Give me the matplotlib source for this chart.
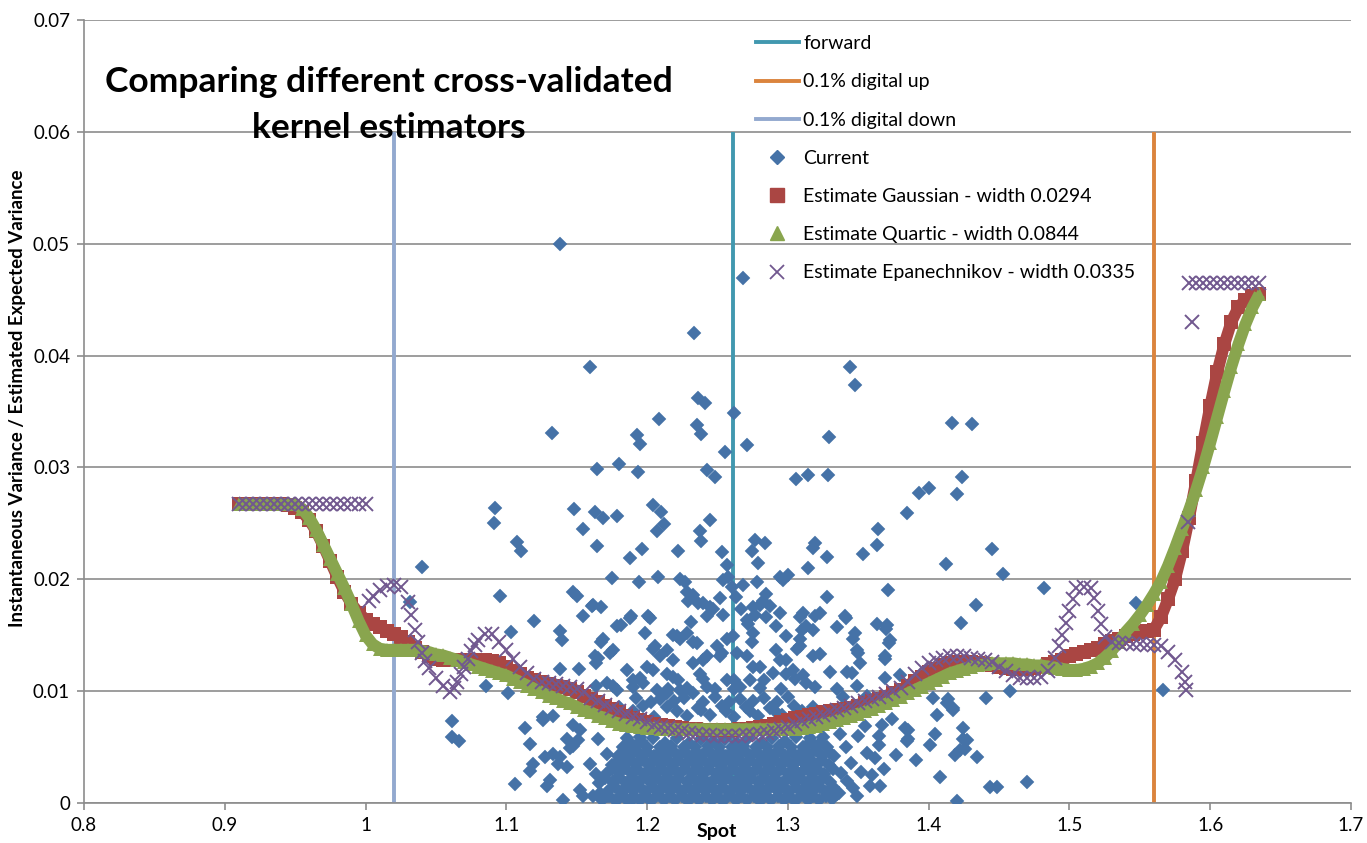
import matplotlib
matplotlib.use("Agg")
import matplotlib.pyplot as plt
from matplotlib.lines import Line2D
import numpy as np

plt.rcParams["font.family"] = ["Lato", "DejaVu Sans"]

# ---- kernel estimates, evaluated on a regular spot grid 0.910 .. 1.635 (step 0.005) ----
SPOT_GRID = np.round(np.arange(0.910, 1.6351, 0.005), 3)

GAUSSIAN = [
    0.0267, 0.0267, 0.0267, 0.0267, 0.0267, 0.0267, 0.0267, 0.0266, 0.0264, 0.0260,  # 0.910
    0.0253, 0.0243, 0.0230, 0.0216, 0.0202, 0.0189, 0.0178, 0.0170, 0.0164, 0.0160,  # 0.960
    0.0157, 0.0154, 0.0151, 0.0148, 0.0144, 0.0139, 0.0135, 0.0131, 0.0129, 0.0128,  # 1.010
    0.0128, 0.0128, 0.0128, 0.0128, 0.0128, 0.0128, 0.0127, 0.0125, 0.0122, 0.0118,  # 1.060
    0.0115, 0.0112, 0.0110, 0.0108, 0.0106, 0.0105, 0.0104, 0.0102, 0.0099, 0.0096,  # 1.110
    0.0093, 0.0090, 0.0087, 0.0084, 0.0081, 0.0078, 0.0076, 0.0074, 0.0072, 0.0071,  # 1.160
    0.0070, 0.0069, 0.0068, 0.0067, 0.0066, 0.0066, 0.0065, 0.0065, 0.0065, 0.0065,  # 1.210
    0.0065, 0.0066, 0.0066, 0.0067, 0.0068, 0.0069, 0.0071, 0.0072, 0.0074, 0.0076,  # 1.260
    0.0077, 0.0079, 0.0080, 0.0081, 0.0082, 0.0083, 0.0084, 0.0085, 0.0087, 0.0089,  # 1.310
    0.0091, 0.0093, 0.0095, 0.0098, 0.0101, 0.0105, 0.0109, 0.0113, 0.0117, 0.0120,  # 1.360
    0.0123, 0.0125, 0.0126, 0.0126, 0.0126, 0.0125, 0.0124, 0.0123, 0.0122, 0.0121,  # 1.410
    0.0120, 0.0120, 0.0120, 0.0121, 0.0122, 0.0124, 0.0126, 0.0128, 0.0131, 0.0133,  # 1.460
    0.0135, 0.0137, 0.0139, 0.0142, 0.0145, 0.0147, 0.0149, 0.0151, 0.0153, 0.0154,  # 1.510
    0.0155, 0.0166, 0.0182, 0.0200, 0.0225, 0.0255, 0.0288, 0.0322, 0.0355, 0.0385,  # 1.560
    0.0410, 0.0430, 0.0443, 0.0450, 0.0453, 0.0455,                                  # 1.610
]

QUARTIC = [
    0.0267, 0.0267, 0.0267, 0.0267, 0.0267, 0.0267, 0.0267, 0.0267, 0.0267, 0.0263,  # 0.910
    0.0255, 0.0244, 0.0231, 0.0218, 0.0205, 0.0192, 0.0178, 0.0163, 0.0150, 0.0142,  # 0.960
    0.0138, 0.0137, 0.0137, 0.0137, 0.0137, 0.0137, 0.0136, 0.0135, 0.0133, 0.0132,  # 1.010
    0.0130, 0.0128, 0.0126, 0.0124, 0.0122, 0.0120, 0.0118, 0.0116, 0.0114, 0.0111,  # 1.060
    0.0108, 0.0105, 0.0102, 0.0099, 0.0096, 0.0094, 0.0091, 0.0089, 0.0086, 0.0083,  # 1.110
    0.0081, 0.0078, 0.0076, 0.0073, 0.0071, 0.0070, 0.0069, 0.0068, 0.0067, 0.0067,  # 1.160
    0.0066, 0.0066, 0.0066, 0.0066, 0.0066, 0.0066, 0.0066, 0.0066, 0.0066, 0.0066,  # 1.210
    0.0066, 0.0066, 0.0066, 0.0066, 0.0066, 0.0066, 0.0066, 0.0066, 0.0066, 0.0066,  # 1.260
    0.0067, 0.0068, 0.0069, 0.0071, 0.0072, 0.0074, 0.0076, 0.0078, 0.0080, 0.0082,  # 1.310
    0.0084, 0.0087, 0.0089, 0.0092, 0.0095, 0.0098, 0.0101, 0.0104, 0.0107, 0.0110,  # 1.360
    0.0113, 0.0116, 0.0118, 0.0120, 0.0122, 0.0123, 0.0124, 0.0125, 0.0125, 0.0125,  # 1.410
    0.0125, 0.0124, 0.0124, 0.0123, 0.0123, 0.0122, 0.0121, 0.0120, 0.0119, 0.0119,  # 1.460
    0.0120, 0.0122, 0.0125, 0.0130, 0.0136, 0.0144, 0.0153, 0.0160, 0.0168, 0.0177,  # 1.510
    0.0187, 0.0198, 0.0212, 0.0228, 0.0245, 0.0262, 0.0280, 0.0300, 0.0322, 0.0345,  # 1.560
    0.0368, 0.0390, 0.0410, 0.0428, 0.0443, 0.0455,                                  # 1.610
]

EPANECHNIKOV = [
    0.0267, 0.0267, 0.0267, 0.0267, 0.0267, 0.0267, 0.0267, 0.0267, 0.0267, 0.0267,  # 0.910
    0.0267, 0.0267, 0.0267, 0.0267, 0.0267, 0.0267, 0.0267, 0.0267, 0.0267, 0.0185,  # 0.960
    0.0190, 0.0194, 0.0195, 0.0193, 0.0180, 0.0155, 0.0134, 0.0121, 0.0112, 0.0105,  # 1.010
    0.0099, 0.0108, 0.0122, 0.0136, 0.0146, 0.0151, 0.0151, 0.0144, 0.0137, 0.0129,  # 1.060
    0.0122, 0.0116, 0.0111, 0.0108, 0.0107, 0.0106, 0.0105, 0.0104, 0.0102, 0.0099,  # 1.110
    0.0094, 0.0091, 0.0088, 0.0085, 0.0082, 0.0080, 0.0077, 0.0075, 0.0072, 0.0070,  # 1.160
    0.0068, 0.0067, 0.0065, 0.0064, 0.0063, 0.0062, 0.0061, 0.0061, 0.0060, 0.0060,  # 1.210
    0.0060, 0.0060, 0.0061, 0.0061, 0.0062, 0.0063, 0.0064, 0.0066, 0.0068, 0.0071,  # 1.260
    0.0073, 0.0075, 0.0077, 0.0079, 0.0081, 0.0083, 0.0085, 0.0087, 0.0089, 0.0091,  # 1.310
    0.0093, 0.0095, 0.0097, 0.0100, 0.0103, 0.0108, 0.0115, 0.0121, 0.0125, 0.0128,  # 1.360
    0.0130, 0.0131, 0.0131, 0.0131, 0.0130, 0.0129, 0.0128, 0.0126, 0.0122, 0.0118,  # 1.410
    0.0114, 0.0112, 0.0112, 0.0112, 0.0113, 0.0118, 0.0130, 0.0150, 0.0172, 0.0192,  # 1.460
    0.0193, 0.0192, 0.0172, 0.0148, 0.0144, 0.0143, 0.0143, 0.0142, 0.0142, 0.0141,  # 1.510
    0.0141, 0.0140, 0.0135, 0.0128, 0.0117, 0.0465, 0.0465, 0.0465, 0.0465, 0.0465,  # 1.560
    0.0465, 0.0465, 0.0465, 0.0465, 0.0465, 0.0465,                                  # 1.610
]

# Epanechnikov points read between grid steps on the steep parts
EPANECH_EXTRA_SPOT = [1.0025, 1.0325, 1.0375, 1.0425, 1.0625, 1.0675, 1.0725, 1.0775,
                      1.4925, 1.4975, 1.5025, 1.5175, 1.5225, 1.582, 1.583, 1.584, 1.587]
EPANECH_EXTRA_VAR = [0.0181, 0.0168, 0.0144, 0.0127, 0.0103, 0.0115, 0.0129, 0.0141,
                     0.0140, 0.0161, 0.0182, 0.0183, 0.0160, 0.0108, 0.0101, 0.0251, 0.0430]

# vertical reference lines (spot levels), drawn from 0 up to BARRIER_TOP
FORWARD = 1.261
DIGITAL_UP = 1.56
DIGITAL_DOWN = 1.02
BARRIER_TOP = 0.06

# ---- observed instantaneous variance ("Current"), (spot, variance) ----
CURRENT_HIGH = [
    (1.138, 0.0500), (1.268, 0.0469), (1.2335, 0.0420), (1.1594, 0.0390), (1.344, 0.0390),
    (1.3476, 0.0374), (1.2363, 0.0362), (1.241, 0.0358), (1.2619, 0.0349), (1.2086, 0.0343),
    (1.4167, 0.0340), (1.4311, 0.0339), (1.1326, 0.0331), (1.2351, 0.0338), (1.1925, 0.0329),
    (1.238, 0.0330), (1.3294, 0.0327), (1.1949, 0.0321), (1.2713, 0.0320), (1.2552, 0.0314),
    (1.1797, 0.0303), (1.1646, 0.0299), (1.1932, 0.0296), (1.2427, 0.0298), (1.2482, 0.0291),
    (1.3061, 0.0290), (1.3144, 0.0293), (1.3286, 0.0293), (1.424, 0.0291), (1.4001, 0.0282),
    (1.3933, 0.0277), (1.4198, 0.0276), (1.0921, 0.0264), (1.148, 0.0263), (1.2043, 0.0266),
    (1.1629, 0.0260), (1.2098, 0.0260), (1.1783, 0.0257), (1.1688, 0.0255), (1.3847, 0.0259),
    (1.0914, 0.0250), (1.2446, 0.0253), (1.2122, 0.0249), (1.1542, 0.0245), (1.3637, 0.0245),
    (1.2072, 0.0243), (1.2375, 0.0243), (1.238, 0.0234), (1.1078, 0.0233), (1.2766, 0.0235),
    (1.2837, 0.0232), (1.3192, 0.0232), (1.363, 0.0231), (1.1646, 0.0230), (1.318, 0.0228),
    (1.4449, 0.0227), (1.1967, 0.0227), (1.1104, 0.0225), (1.2221, 0.0225), (1.2742, 0.0225),
    (1.2534, 0.0224), (1.353, 0.0223), (1.3275, 0.0220), (1.1878, 0.0219), (1.2789, 0.0215),
    (1.412, 0.0214), (1.2564, 0.0213), (1.3144, 0.0210), (1.0398, 0.0211), (1.4529, 0.0205),
    (1.3002, 0.0204),
]

CURRENT_MID = [
    (1.2967, 0.0199), (1.1748, 0.0201), (1.1944, 0.0198), (1.2079, 0.0202), (1.2233, 0.0200),
    (1.2269, 0.0198), (1.2576, 0.0202), (1.2943, 0.0202), (1.2778, 0.0198), (1.2683, 0.0195),
    (1.2600, 0.0193), (1.2540, 0.0199), (1.4818, 0.0192), (1.3713, 0.0190), (1.0955, 0.0185),
    (1.1475, 0.0189), (1.1504, 0.0185), (1.2280, 0.0189), (1.2327, 0.0186), (1.2292, 0.0181),
    (1.2848, 0.0187), (1.2825, 0.0181), (1.3275, 0.0184), (1.2631, 0.0184), (1.2517, 0.0183),
    (1.0315, 0.0180), (1.2363, 0.0179), (1.2399, 0.0179), (1.2801, 0.0177), (1.5476, 0.0179),
    (1.4335, 0.0177), (1.1617, 0.0177), (1.1676, 0.0175), (1.1606, 0.0176), (1.2871, 0.0176),
    (1.2446, 0.0175), (1.2754, 0.0175), (1.2942, 0.0170), (1.3227, 0.0170), (1.3109, 0.0170),
    (1.2667, 0.0173), (1.2469, 0.0173), (1.2766, 0.0168), (1.2540, 0.0168), (1.2424, 0.0167),
    (1.1542, 0.0167), (1.1889, 0.0167), (1.2007, 0.0167), (1.3192, 0.0167), (1.3405, 0.0167),
    (1.2848, 0.0166), (1.3085, 0.0166), (1.1878, 0.0165), (1.2020, 0.0165), (1.3416, 0.0165),
    (1.2706, 0.0164), (1.1198, 0.0163), (1.2313, 0.0162), (1.4229, 0.0161), (1.2718, 0.0160),
    (1.3630, 0.0160), (1.3701, 0.0159), (1.1818, 0.0159), (1.1783, 0.0158), (1.2919, 0.0158),
    (1.3132, 0.0158), (1.3346, 0.0157), (1.3097, 0.0155), (1.3180, 0.0155), (1.3700, 0.0156),
    (1.1381, 0.0154), (1.1030, 0.0153), (1.1984, 0.0152), (1.2280, 0.0152), (1.2754, 0.0152),
    (1.3476, 0.0152), (1.2185, 0.0150), (1.2209, 0.0149), (1.2611, 0.0149), (1.2990, 0.0149),
    (1.2233, 0.0147), (1.1688, 0.0147), (1.2564, 0.0147), (1.3086, 0.0147), (1.3464, 0.0147),
    (1.1392, 0.0146), (1.3724, 0.0146), (1.2327, 0.0144), (1.2742, 0.0144), (1.1676, 0.0144),
    (1.2351, 0.0143), (1.3720, 0.0143), (1.2055, 0.0140), (1.2493, 0.0140), (1.3085, 0.0140),
    (1.2043, 0.0138), (1.3062, 0.0138), (1.2138, 0.0137), (1.1759, 0.0137), (1.2919, 0.0137),
    (1.3488, 0.0137), (1.2635, 0.0134), (1.2529, 0.0134), (1.1736, 0.0134), (1.3500, 0.0134),
    (1.3227, 0.0133), (1.2090, 0.0131), (1.1629, 0.0131), (1.2422, 0.0131), (1.2707, 0.0131),
    (1.2517, 0.0131), (1.3180, 0.0131), (1.3690, 0.0131), (1.1653, 0.0130), (1.2943, 0.0128),
    (1.2185, 0.0128), (1.2399, 0.0128), (1.2990, 0.0128), (1.3689, 0.0129), (1.1640, 0.0125),
    (1.2328, 0.0125), (1.3511, 0.0125), (1.2754, 0.0122), (1.1996, 0.0122), (1.2801, 0.0122),
    (1.1381, 0.0120), (1.1518, 0.0120), (1.2043, 0.0119), (1.1854, 0.0119), (1.3038, 0.0119),
    (1.3417, 0.0117), (1.2896, 0.0116), (1.3452, 0.0116), (1.3298, 0.0117), (1.2375, 0.0115),
    (1.2138, 0.0115), (1.2990, 0.0115), (1.3795, 0.0114), (1.3109, 0.0114), (1.2185, 0.0113),
    (1.3690, 0.0112), (1.1949, 0.0112), (1.2564, 0.0110), (1.2730, 0.0110), (1.1712, 0.0107),
    (1.1972, 0.0107), (1.3132, 0.0107), (1.1759, 0.0105), (1.1640, 0.0105), (1.3488, 0.0105),
    (1.0859, 0.0105), (1.2659, 0.0104), (1.2422, 0.0104), (1.1901, 0.0104), (1.3192, 0.0104),
    (1.3346, 0.0102), (1.1783, 0.0101), (1.2067, 0.0101), (1.2233, 0.0101), (1.5665, 0.0101),
    (1.4581, 0.0100),
]

CURRENT_LOW = [
    (1.1014, 0.0098), (1.2327, 0.0098), (1.2138, 0.0098), (1.3559, 0.0096), (1.3393, 0.0095),
    (1.4032, 0.0094), (1.4406, 0.0094), (1.4140, 0.0093), (1.3677, 0.0089), (1.4127, 0.0089),
    (1.4170, 0.0085), (1.4174, 0.0083), (1.4056, 0.0079), (1.1333, 0.0078), (1.1262, 0.0077),
    (1.3740, 0.0075), (1.1262, 0.0074), (1.0611, 0.0073), (1.1475, 0.0070), (1.3665, 0.0070),
    (1.1134, 0.0067), (1.4245, 0.0067), (1.3831, 0.0067), (1.1523, 0.0065), (1.3852, 0.0065),
    (1.4044, 0.0062), (1.3648, 0.0060), (1.0611, 0.0059), (1.1428, 0.0057), (1.4245, 0.0057),
    (1.3852, 0.0057), (1.1653, 0.0057), (1.4269, 0.0056), (1.1510, 0.0056), (1.0666, 0.0055),
    (1.3843, 0.0055), (1.1168, 0.0053), (1.4009, 0.0052), (1.1475, 0.0051), (1.1452, 0.0049),
    (1.4260, 0.0048), (1.4221, 0.0047), (1.1333, 0.0044), (1.1712, 0.0044), (1.1854, 0.0044),
    (1.4186, 0.0043), (1.3767, 0.0043), (1.1274, 0.0041), (1.1380, 0.0041), (1.4340, 0.0041),
    (1.3909, 0.0038), (1.1191, 0.0035), (1.1369, 0.0035), (1.1594, 0.0035), (1.1428, 0.0032),
    (1.1807, 0.0032), (1.3685, 0.0030), (1.1168, 0.0029), (1.1640, 0.0026), (1.4084, 0.0023),
    (1.1310, 0.0021), (1.1759, 0.0019), (1.4695, 0.0019), (1.1061, 0.0017), (1.1286, 0.0015),
    (1.3653, 0.0015), (1.4435, 0.0014), (1.4483, 0.0014), (1.1523, 0.0012), (1.1665, 0.0009),
    (1.1546, 0.0006), (1.1617, 0.0006), (1.1712, 0.0006), (1.1807, 0.0006), (1.1901, 0.0004),
    (1.1404, 0.0003), (1.4203, 0.0002),
]

# dense core around the forward, below ~0.011
CURRENT_CORE = [
    (1.168, 0.0003), (1.178, 0.0002), (1.186, 0.0003), (1.195, 0.0003), (1.203, 0.0002),
    (1.212, 0.0003), (1.220, 0.0003), (1.229, 0.0002), (1.237, 0.0003), (1.246, 0.0003),
    (1.254, 0.0002), (1.263, 0.0003), (1.271, 0.0003), (1.280, 0.0002), (1.288, 0.0003),
    (1.297, 0.0003), (1.305, 0.0002), (1.314, 0.0003), (1.322, 0.0003), (1.331, 0.0004),
    (1.173, 0.0006), (1.182, 0.0007), (1.191, 0.0006), (1.199, 0.0006), (1.208, 0.0007),
    (1.216, 0.0006), (1.225, 0.0006), (1.233, 0.0007), (1.242, 0.0006), (1.250, 0.0006),
    (1.259, 0.0007), (1.267, 0.0006), (1.276, 0.0006), (1.284, 0.0007), (1.293, 0.0006),
    (1.301, 0.0006), (1.310, 0.0007), (1.318, 0.0006), (1.327, 0.0006),
    (1.172, 0.0011), (1.182, 0.0010), (1.190, 0.0011), (1.199, 0.0010), (1.208, 0.0010),
    (1.216, 0.0011), (1.225, 0.0010), (1.233, 0.0010), (1.241, 0.0011), (1.250, 0.0010),
    (1.258, 0.0010), (1.267, 0.0011), (1.276, 0.0010), (1.284, 0.0010), (1.293, 0.0011),
    (1.301, 0.0010), (1.310, 0.0010), (1.318, 0.0011), (1.327, 0.0010), (1.336, 0.0009),
    (1.177, 0.0014), (1.186, 0.0015), (1.195, 0.0014), (1.204, 0.0014), (1.212, 0.0015),
    (1.221, 0.0014), (1.229, 0.0014), (1.237, 0.0015), (1.246, 0.0014), (1.254, 0.0014),
    (1.263, 0.0015), (1.272, 0.0014), (1.280, 0.0014), (1.289, 0.0015), (1.297, 0.0014),
    (1.306, 0.0014), (1.314, 0.0015), (1.323, 0.0014), (1.332, 0.0014),
    (1.166, 0.0018), (1.176, 0.0019), (1.185, 0.0018), (1.193, 0.0018), (1.202, 0.0019),
    (1.211, 0.0018), (1.219, 0.0018), (1.228, 0.0019), (1.236, 0.0018), (1.245, 0.0018),
    (1.253, 0.0019), (1.262, 0.0018), (1.270, 0.0018), (1.279, 0.0019), (1.287, 0.0018),
    (1.296, 0.0018), (1.304, 0.0019), (1.313, 0.0018), (1.321, 0.0018), (1.330, 0.0019),
    (1.170, 0.0022), (1.180, 0.0023), (1.189, 0.0022), (1.197, 0.0022), (1.206, 0.0023),
    (1.215, 0.0022), (1.223, 0.0022), (1.232, 0.0023), (1.240, 0.0022), (1.249, 0.0022),
    (1.257, 0.0023), (1.266, 0.0022), (1.274, 0.0022), (1.283, 0.0023), (1.291, 0.0022),
    (1.300, 0.0022), (1.308, 0.0023), (1.317, 0.0022), (1.325, 0.0022),
    (1.171, 0.0026), (1.180, 0.0027), (1.189, 0.0026), (1.198, 0.0026), (1.206, 0.0027),
    (1.214, 0.0026), (1.223, 0.0026), (1.232, 0.0027), (1.240, 0.0026), (1.249, 0.0026),
    (1.257, 0.0027), (1.266, 0.0026), (1.274, 0.0026), (1.283, 0.0027), (1.291, 0.0026),
    (1.300, 0.0026), (1.309, 0.0027), (1.317, 0.0026), (1.326, 0.0026), (1.338, 0.0027),
    (1.175, 0.0030), (1.184, 0.0031), (1.193, 0.0030), (1.202, 0.0030), (1.210, 0.0031),
    (1.219, 0.0030), (1.227, 0.0030), (1.236, 0.0031), (1.244, 0.0030), (1.253, 0.0030),
    (1.261, 0.0031), (1.270, 0.0030), (1.278, 0.0030), (1.287, 0.0031), (1.295, 0.0030),
    (1.304, 0.0030), (1.313, 0.0031), (1.321, 0.0030), (1.332, 0.0030),
    (1.175, 0.0034), (1.184, 0.0035), (1.192, 0.0034), (1.201, 0.0034), (1.210, 0.0035),
    (1.218, 0.0034), (1.227, 0.0034), (1.235, 0.0035), (1.244, 0.0034), (1.252, 0.0034),
    (1.261, 0.0035), (1.269, 0.0034), (1.278, 0.0034), (1.286, 0.0035), (1.295, 0.0034),
    (1.303, 0.0034), (1.312, 0.0035), (1.320, 0.0034), (1.329, 0.0034),
    (1.180, 0.0038), (1.188, 0.0039), (1.197, 0.0038), (1.205, 0.0038), (1.214, 0.0039),
    (1.222, 0.0038), (1.231, 0.0038), (1.239, 0.0039), (1.248, 0.0038), (1.256, 0.0038),
    (1.265, 0.0039), (1.273, 0.0038), (1.282, 0.0038), (1.290, 0.0039), (1.299, 0.0038),
    (1.307, 0.0038), (1.316, 0.0039), (1.324, 0.0038),
    (1.179, 0.0042), (1.188, 0.0043), (1.196, 0.0042), (1.205, 0.0042), (1.213, 0.0043),
    (1.222, 0.0042), (1.230, 0.0042), (1.239, 0.0043), (1.247, 0.0042), (1.256, 0.0042),
    (1.264, 0.0043), (1.273, 0.0042), (1.281, 0.0042), (1.290, 0.0043), (1.298, 0.0042),
    (1.307, 0.0042), (1.315, 0.0043), (1.324, 0.0042), (1.333, 0.0042),
    (1.183, 0.0046), (1.192, 0.0047), (1.200, 0.0046), (1.209, 0.0046), (1.218, 0.0047),
    (1.226, 0.0046), (1.235, 0.0046), (1.243, 0.0047), (1.252, 0.0046), (1.260, 0.0046),
    (1.269, 0.0047), (1.277, 0.0046), (1.286, 0.0046), (1.294, 0.0047), (1.303, 0.0046),
    (1.311, 0.0046), (1.320, 0.0047), (1.329, 0.0046),
    (1.183, 0.0050), (1.191, 0.0051), (1.200, 0.0050), (1.209, 0.0050), (1.217, 0.0051),
    (1.226, 0.0050), (1.234, 0.0050), (1.243, 0.0051), (1.251, 0.0050), (1.260, 0.0050),
    (1.268, 0.0051), (1.277, 0.0050), (1.285, 0.0050), (1.294, 0.0051), (1.302, 0.0050),
    (1.311, 0.0050), (1.319, 0.0051), (1.328, 0.0050),
    (1.188, 0.0054), (1.196, 0.0055), (1.213, 0.0054), (1.230, 0.0054), (1.247, 0.0055),
    (1.264, 0.0054), (1.281, 0.0054), (1.298, 0.0055), (1.315, 0.0054), (1.323, 0.0054),
    (1.186, 0.0058), (1.195, 0.0059), (1.204, 0.0058), (1.221, 0.0058), (1.238, 0.0057),
    (1.255, 0.0057), (1.272, 0.0058), (1.289, 0.0058), (1.306, 0.0059), (1.316, 0.0058),
    (1.325, 0.0059),
    (1.188, 0.0078), (1.205, 0.0077), (1.228, 0.0078), (1.245, 0.0079), (1.262, 0.0077),
    (1.279, 0.0078), (1.296, 0.0079),
    (1.190, 0.0082), (1.221, 0.0082), (1.238, 0.0083), (1.256, 0.0082), (1.273, 0.0082),
    (1.290, 0.0083), (1.310, 0.0082),
    (1.180, 0.0086), (1.197, 0.0087), (1.214, 0.0086), (1.236, 0.0085), (1.253, 0.0087),
    (1.270, 0.0086), (1.287, 0.0085), (1.304, 0.0087), (1.318, 0.0086),
    (1.203, 0.0090), (1.219, 0.0091), (1.240, 0.0090), (1.258, 0.0090), (1.275, 0.0091),
    (1.292, 0.0090),
    (1.192, 0.0094), (1.209, 0.0093), (1.226, 0.0094), (1.248, 0.0095), (1.266, 0.0093),
    (1.283, 0.0094), (1.300, 0.0095),
    (1.215, 0.0102), (1.228, 0.0103), (1.248, 0.0102), (1.262, 0.0102), (1.280, 0.0103),
    (1.295, 0.0102),
    (1.190, 0.0110), (1.222, 0.0110), (1.240, 0.0111), (1.262, 0.0110), (1.283, 0.0110),
    (1.305, 0.0111),
    (1.335, 0.0008), (1.342, 0.0020), (1.349, 0.0006), (1.345, 0.0036), (1.352, 0.0028),
    (1.358, 0.0015), (1.341, 0.0050), (1.356, 0.0045), (1.362, 0.0040), (1.337, 0.0062),
    (1.350, 0.0060), (1.360, 0.0025), (1.346, 0.0013), (1.355, 0.0069), (1.365, 0.0052),
]

COLOR_CURRENT = "#4572A7"
COLOR_GAUSS = "#AA4643"
COLOR_QUARTIC = "#89A54E"
COLOR_EPAN = "#71588F"
COLOR_FWD = "#4198AF"
COLOR_UP = "#DB843D"
COLOR_DOWN = "#93A9CF"
GRID_GRAY = "#8C8C8C"

W, H = 1367, 843
fig = plt.figure(figsize=(W / 100, H / 100), dpi=100)
ax = fig.add_axes([84 / W, 1 - 803 / H, (1351 - 84) / W, (803 - 20) / H])

# reference spot levels
for spot, col in [(FORWARD, COLOR_FWD), (DIGITAL_UP, COLOR_UP), (DIGITAL_DOWN, COLOR_DOWN)]:
    ax.plot([spot, spot], [0, BARRIER_TOP], color=col, lw=2.8, zorder=2, solid_capstyle="butt")

current = CURRENT_HIGH + CURRENT_MID + CURRENT_LOW + CURRENT_CORE
cx = [p[0] for p in current]
cy = [p[1] for p in current]
ax.plot(cx, cy, ls="none", marker="D", ms=7.5, color=COLOR_CURRENT,
        mec=COLOR_CURRENT, mew=0.3, zorder=3)

# estimates: thick band + markers (the original is a very dense marker series)
ax.plot(SPOT_GRID, GAUSSIAN, color=COLOR_GAUSS, lw=8.5, zorder=4, solid_capstyle="butt")
ax.plot(SPOT_GRID, GAUSSIAN, ls="none", marker="s", ms=9.5, color=COLOR_GAUSS, mew=0, zorder=4)
ax.plot(SPOT_GRID, QUARTIC, color=COLOR_QUARTIC, lw=8.5, zorder=5, solid_capstyle="butt")
ax.plot(SPOT_GRID, QUARTIC, ls="none", marker="^", ms=10, color=COLOR_QUARTIC, mew=0, zorder=5)
ax.plot(SPOT_GRID, EPANECHNIKOV, ls="none", marker="x", ms=10, mew=1.4, color=COLOR_EPAN, zorder=6)
ax.plot(EPANECH_EXTRA_SPOT, EPANECH_EXTRA_VAR, ls="none", marker="x", ms=10, mew=1.4,
        color=COLOR_EPAN, zorder=6)

ax.set_xlim(0.8, 1.7)
ax.set_ylim(0, 0.07)
ax.set_xticks(np.arange(0.8, 1.71, 0.1))
ax.set_xticklabels(["0.8", "0.9", "1", "1.1", "1.2", "1.3", "1.4", "1.5", "1.6", "1.7"])
ax.set_yticks(np.arange(0, 0.071, 0.01))
ax.set_yticklabels(["0", "0.01", "0.02", "0.03", "0.04", "0.05", "0.06", "0.07"])
ax.yaxis.grid(True, color=GRID_GRAY, lw=1.2)
ax.set_axisbelow(True)
for side in ("top", "right"):
    ax.spines[side].set_visible(False)
for side in ("left", "bottom"):
    ax.spines[side].set_color(GRID_GRAY)
    ax.spines[side].set_linewidth(1.2)
ax.tick_params(axis="both", direction="out", length=5, width=1.2, color=GRID_GRAY,
               labelsize=13.5, pad=5)

handles = [
    Line2D([], [], color=COLOR_FWD, lw=2.8),
    Line2D([], [], color=COLOR_UP, lw=2.8),
    Line2D([], [], color=COLOR_DOWN, lw=2.8),
    Line2D([], [], ls="none", marker="D", ms=7.2, color=COLOR_CURRENT),
    Line2D([], [], ls="none", marker="s", ms=10, color=COLOR_GAUSS),
    Line2D([], [], ls="none", marker="^", ms=10, color=COLOR_QUARTIC),
    Line2D([], [], ls="none", marker="x", ms=10, mew=1.3, color=COLOR_EPAN),
]
labels = ["forward", "0.1% digital up", "0.1% digital down", "Current",
          "Estimate Gaussian - width 0.0294", "Estimate Quartic - width 0.0844",
          "Estimate Epanechnikov - width 0.0335"]
leg = ax.legend(handles, labels, loc="upper left",
                bbox_to_anchor=((750 - 84) / 1267, 0.988),
                frameon=False, fontsize=14, handlelength=2.2, handletextpad=0.25,
                labelspacing=1.09, borderaxespad=0, borderpad=0.3)
leg.set_zorder(10)

fig.text(389 / W, 1 - 82 / H, "Comparing different cross-validated", ha="center", va="center",
         fontsize=25.5, fontweight="bold")
fig.text(389 / W, 1 - 128 / H, "kernel estimators", ha="center", va="center",
         fontsize=25.5, fontweight="bold")
fig.text(18 / W, 1 - 398 / H, "Instantaneous Variance / Estimated Expected Variance",
         rotation=90, ha="center", va="center", fontsize=13.5, fontweight="bold")
fig.text(717 / W, 1 - 831 / H, "Spot", ha="center", va="center", fontsize=14,
         fontweight="bold")

fig.savefig("out.png", dpi=100)
